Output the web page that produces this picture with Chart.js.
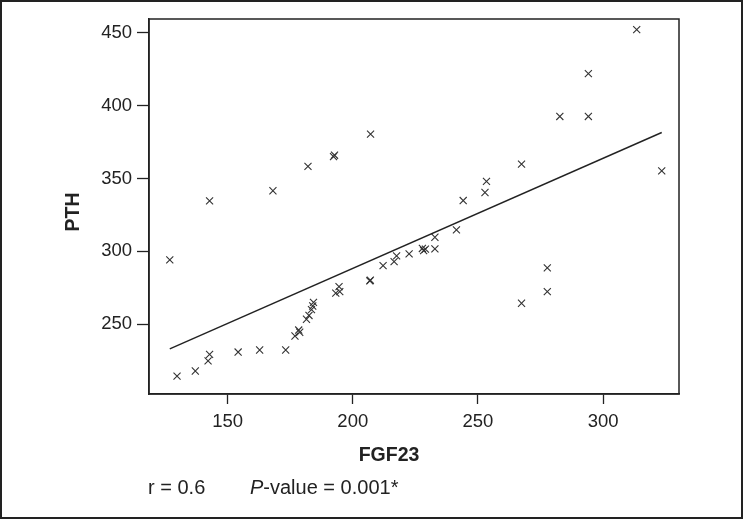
<!DOCTYPE html>
<html>
<head>
<meta charset="utf-8">
<script src="https://cdn.jsdelivr.net/npm/chart.js@4/dist/chart.umd.min.js"></script>
<style>
  html, body { margin: 0; padding: 0; background: #fff; }
  #wrap { width: 743px; height: 519px; position: relative; }
</style>
</head>
<body>
<div id="wrap"><canvas id="c" width="743" height="519"></canvas></div>
<script>
// ---- data ----
const fgf23 = [126.9, 129.8, 137.1, 142.2, 142.8, 142.8, 154.2, 162.8, 168.1, 173.2,
               176.9, 178.4, 178.8, 181.5, 182.5, 183.5, 184.0, 184.3, 182.1, 192.3,
               192.7, 193.2, 194.5, 194.8, 206.8, 207.0, 207.1, 212.1, 216.5, 217.5,
               222.5, 227.8, 228.3, 229.0, 232.8, 232.8, 241.4, 244.1, 252.8, 253.4,
               267.4, 267.4, 277.7, 277.7, 282.7, 294.1, 294.1, 313.4, 323.4];
const pth    = [294.2, 214.4, 217.9, 224.8, 229.3, 334.7, 230.9, 232.3, 341.6, 232.3,
               241.9, 246.0, 244.5, 253.4, 256.0, 260.0, 262.5, 265.0, 358.3, 365.0,
               366.0, 271.3, 275.8, 272.4, 279.7, 280.2, 380.5, 290.2, 293.0, 296.9,
               298.3, 302.0, 300.5, 301.5, 301.7, 309.7, 314.8, 334.9, 340.4, 348.0,
               359.9, 264.4, 288.7, 272.4, 392.6, 392.6, 422.0, 452.2, 355.3];
const fitX = [126.9, 323.4];
const fitY = [233.0, 381.6];
const xTicks = [150, 200, 250, 300];
const yTicks = [250, 300, 350, 400, 450];
const xTitle = 'FGF23';
const yTitle = 'PTH';
const rText = 'r = 0.6';
const pLetter = 'P';
const pRest = '-value = 0.001*';

const FONT = "'Liberation Sans', Arial, sans-serif";
const INK = '#222';

const points = fgf23.map((x, i) => ({ x: x, y: pth[i] }));
const fitLine = fitX.map((x, i) => ({ x: x, y: fitY[i] }));

const decor = {
  id: 'decor',
  afterDraw(chart) {
    const ctx = chart.ctx;
    const a = chart.chartArea;
    ctx.save();
    // plot frame
    ctx.strokeStyle = INK;
    ctx.lineWidth = 1.5;
    ctx.strokeRect(a.left, a.top, a.right - a.left, a.bottom - a.top);
    // outer picture frame
    ctx.lineWidth = 2;
    ctx.strokeRect(1, 1, 741, 517);
    ctx.fillStyle = INK;
    // x title
    ctx.font = 'bold 19.5px ' + FONT;
    ctx.textAlign = 'center';
    ctx.textBaseline = 'middle';
    ctx.fillText(xTitle, 389, 456);
    // y title
    ctx.save();
    ctx.translate(74, 212);
    ctx.rotate(-Math.PI / 2);
    ctx.fillText(yTitle, 0, 0);
    ctx.restore();
    // bottom note
    ctx.textAlign = 'left';
    ctx.textBaseline = 'alphabetic';
    ctx.font = '20px ' + FONT;
    ctx.fillText(rText, 148, 494);
    ctx.font = 'italic 20px ' + FONT;
    ctx.fillText(pLetter, 250, 494);
    const w = ctx.measureText(pLetter).width;
    ctx.font = '20px ' + FONT;
    ctx.fillText(pRest, 250 + w, 494);
    ctx.restore();
  }
};

new Chart(document.getElementById('c'), {
  type: 'scatter',
  data: {
    datasets: [
      {
        data: points,
        pointStyle: 'crossRot',
        pointRadius: 5,
        pointHoverRadius: 5,
        borderColor: '#333',
        pointBorderWidth: 1.1,
        backgroundColor: '#333',
        showLine: false,
        order: 2
      },
      {
        data: fitLine,
        showLine: true,
        borderColor: INK,
        borderWidth: 1.4,
        pointRadius: 0,
        fill: false,
        order: 1
      }
    ]
  },
  options: {
    responsive: false,
    animation: false,
    events: [],
    layout: { padding: { left: 0, top: 19, right: 64, bottom: 0 } },
    plugins: { legend: { display: false }, tooltip: { enabled: false } },
    scales: {
      x: {
        type: 'linear',
        min: 118.6,
        max: 330.3,
        afterBuildTicks: s => { s.ticks = xTicks.map(v => ({ value: v })); },
        afterFit: s => { s.height = 125; },
        grid: { drawOnChartArea: false, drawTicks: true, tickLength: 10, tickColor: INK, tickWidth: 1.3 },
        border: { display: true, color: INK, width: 1.5 },
        ticks: { color: INK, font: { family: FONT, size: 18.5 }, padding: 7, maxRotation: 0 }
      },
      y: {
        type: 'linear',
        min: 202.1,
        max: 459.5,
        afterBuildTicks: s => { s.ticks = yTicks.map(v => ({ value: v })); },
        afterFit: s => { s.width = 149; },
        grid: { drawOnChartArea: false, drawTicks: true, tickLength: 12, tickColor: INK, tickWidth: 1.3 },
        border: { display: true, color: INK, width: 1.5 },
        ticks: { color: INK, font: { family: FONT, size: 18.5 }, padding: 5 }
      }
    }
  },
  plugins: [decor]
});
</script>
</body>
</html>
